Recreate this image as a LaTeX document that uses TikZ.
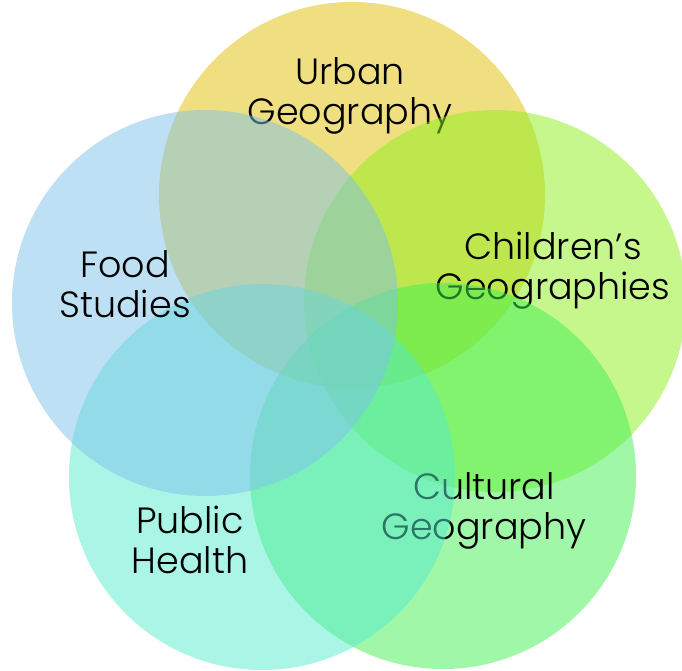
\documentclass[tikz,border=0pt]{standalone}
\usepackage{fontspec}
\setmainfont{Poppins Light}
\definecolor{urbanc}{RGB}{225,191,1}
\definecolor{foodc}{RGB}{125,193,235}
\definecolor{childc}{RGB}{139,239,25}
\definecolor{publicc}{RGB}{87,235,205}
\definecolor{cultc}{RGB}{65,239,81}
\begin{document}
\begin{tikzpicture}[x=1pt,y=-1pt,
  circ/.style={fill=#1,fill opacity=0.5,draw=none},
  lbl/.style={align=center,font=\fontsize{36.5}{40}\selectfont,text=black,inner sep=0pt}]
\useasboundingbox (0,0) rectangle (682,670);
\fill[circ=urbanc] (352,195) circle (193);
\node[lbl] (ul) at (350,96) {Urban\\Geography};
\fill[circ=childc] (495,301) circle (191);
\node[lbl] (cl) at (553,271) {Children’s\\Geographies};
\fill[circ=cultc] (443,476) circle (193);
\node[lbl] (tl) at (484,511) {Cultural\\Geography};
\fill[circ=publicc] (262,477) circle (193);
\node[lbl] (pl) at (190,540) {Public\\Health};
\fill[circ=foodc] (205,303) circle (193);
\node[lbl] (fl) at (125,284) {Food\\Studies};
\end{tikzpicture}
\end{document}
